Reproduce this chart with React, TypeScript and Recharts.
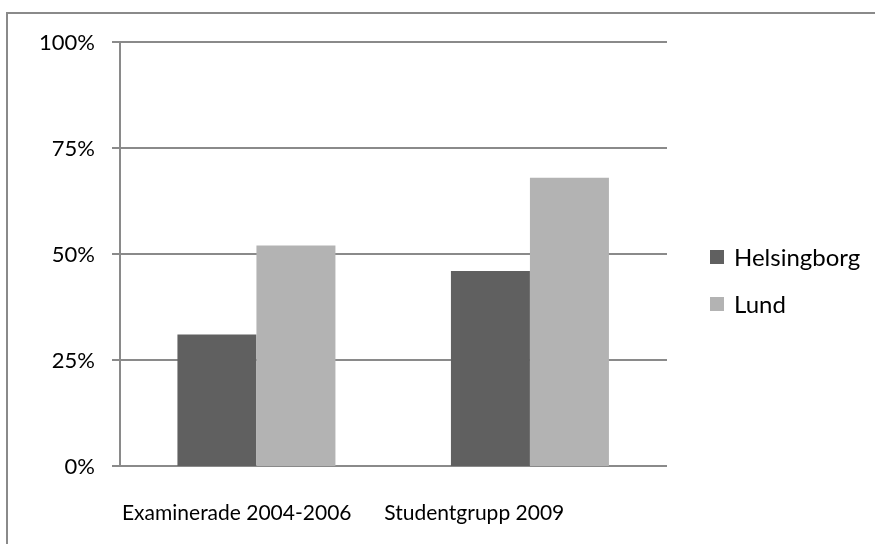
import { BarChart, Bar, XAxis, YAxis, CartesianGrid, Legend } from 'recharts'

const categories = ['Examinerade 2004-2006', 'Studentgrupp 2009']
const helsingborg = [0.31, 0.46]
const lund = [0.52, 0.68]
const yTicks = [0, 0.25, 0.5, 0.75, 1]
const edgeTicks = [0, 1, 2]

const seriesColors = { Helsingborg: '#606060', Lund: '#b3b3b3' }
const axisColor = '#8a8a8a'
const font = 'Lato, "Open Sans", sans-serif'
// Excel placed the category labels a bit left of the group centres
const labelShift = [-20, -56]

const data = categories.map((name, i) => ({
  name,
  Helsingborg: helsingborg[i],
  Lund: lund[i],
}))

const CategoryTick = (props: any) => {
  const { x, y, payload, index } = props
  return (
    <text
      x={x + (labelShift[index] ?? 0)}
      y={y + 46}
      textAnchor="middle"
      fontSize={21}
      fontFamily={font}
      fill="#000"
    >
      {payload.value}
    </text>
  )
}

const LegendBox = () => (
  <div style={{ fontFamily: font, fontSize: 24, color: '#000' }}>
    {Object.entries(seriesColors).map(([name, color]) => (
      <div key={name} style={{ display: 'flex', alignItems: 'center', height: 47 }}>
        <span style={{ width: 14, height: 14, background: color, marginRight: 10, display: 'inline-block' }} />
        {name}
      </div>
    ))}
  </div>
)

export default function App() {
  return (
    <div style={{ position: 'fixed', left: 0, top: 0, width: 875, height: 544 }}>
      {/* frame of the embedded chart object: only top and left edges are in view */}
      <svg width={875} height={544} style={{ position: 'absolute', left: 0, top: 0 }}>
        <path d="M7 544 V13 H875" fill="none" stroke={axisColor} strokeWidth={2} />
      </svg>
      <div style={{ position: 'absolute', left: 0, top: 0 }}>
        <BarChart
          width={875}
          height={544}
          data={data}
          margin={{ top: 42, right: 208, bottom: 0, left: 0 }}
          barCategoryGap="21%"
          barGap={0}
        >
          <CartesianGrid vertical={false} horizontal stroke={axisColor} strokeWidth={2} />
          <XAxis
            xAxisId="edge"
            type="number"
            domain={[0, 2]}
            ticks={edgeTicks}
            height={0}
            axisLine={{ stroke: axisColor, strokeWidth: 2 }}
            tickLine={{ stroke: axisColor, strokeWidth: 2 }}
            tickSize={8}
            tickFormatter={() => ''}
          />
          <XAxis
            dataKey="name"
            height={78}
            axisLine={false}
            tickLine={false}
            tick={<CategoryTick />}
            interval={0}
          />
          <YAxis
            width={120}
            domain={[0, 1]}
            ticks={yTicks}
            tickFormatter={(v: number) => `${Math.round(v * 100)}%`}
            axisLine={{ stroke: axisColor, strokeWidth: 2 }}
            tickLine={{ stroke: axisColor, strokeWidth: 2 }}
            tickSize={8}
            tickMargin={17}
            tick={{ fill: '#000', fontSize: 22, fontFamily: font }}
          />
          <Legend
            layout="vertical"
            align="center"
            verticalAlign="middle"
            content={<LegendBox />}
            wrapperStyle={{ position: 'absolute', left: 710, top: 233, width: 160 }}
          />
          <Bar dataKey="Helsingborg" fill={seriesColors.Helsingborg} isAnimationActive={false} />
          <Bar dataKey="Lund" fill={seriesColors.Lund} isAnimationActive={false} />
        </BarChart>
      </div>
    </div>
  )
}
